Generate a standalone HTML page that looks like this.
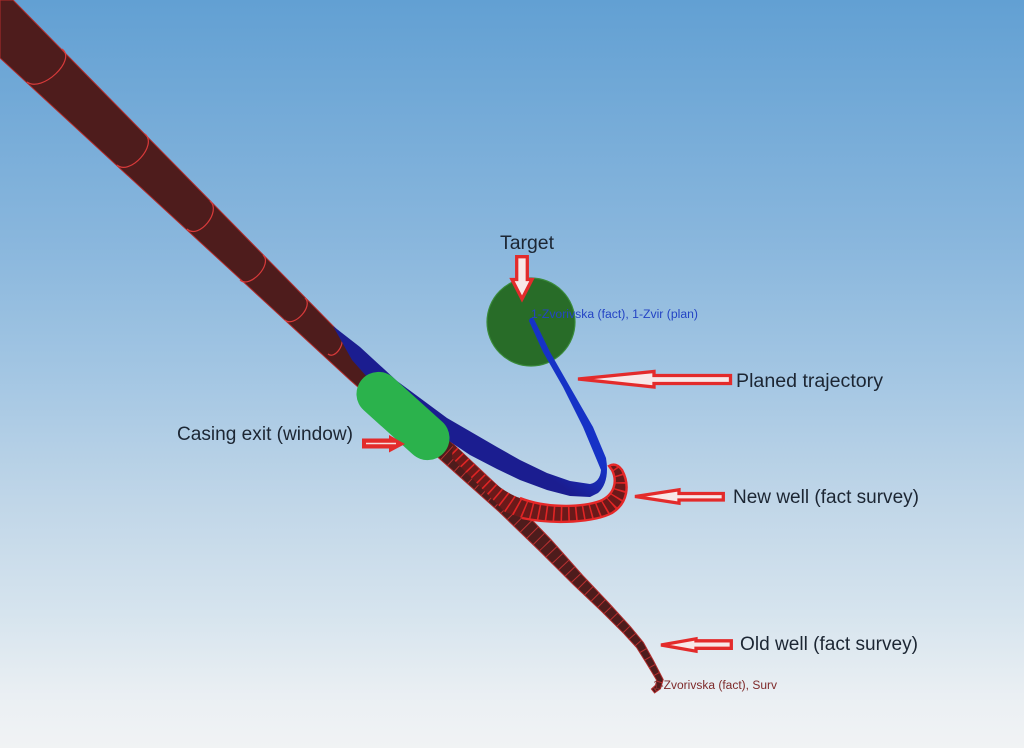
<!DOCTYPE html>
<html>
<head>
<meta charset="utf-8">
<style>
  html,body{margin:0;padding:0;background:#a6c8e4;}
  body{width:1024px;height:748px;overflow:hidden;}
  svg{display:block;}
  .lbl{font-family:"Liberation Sans",Arial,sans-serif;font-size:19px;fill:#1c2633;}
</style>
</head>
<body>
<svg width="1024" height="748" viewBox="0 0 1024 748" xmlns="http://www.w3.org/2000/svg">
  <defs>
    <linearGradient id="bg" x1="0" y1="0" x2="0" y2="1">
      <stop offset="0" stop-color="#62a0d3"/>
      <stop offset="0.33" stop-color="#8ab7dd"/>
      <stop offset="0.5" stop-color="#a3c6e3"/>
      <stop offset="0.67" stop-color="#c0d6e8"/>
      <stop offset="0.82" stop-color="#d6e4ee"/>
      <stop offset="0.93" stop-color="#eaeff3"/>
      <stop offset="1" stop-color="#f1f3f4"/>
    </linearGradient>
    <linearGradient id="bl" gradientUnits="userSpaceOnUse" x1="560" y1="485" x2="583" y2="452">
      <stop offset="0" stop-color="#1b1d90"/>
      <stop offset="1" stop-color="#1632c6"/>
    </linearGradient>
    <clipPath id="oldclip">
      <path d="M453.7,444.6 L511.2,498.5 L550.7,539.4 L582.7,575.5 L608.9,603.1 L630.5,626.8 L643.4,642.5 L653.2,660.2 L663.2,679.6 L660.5,688.7 L654.6,693 L651.4,689 L655.5,685.3 L656.8,680.4 L646.8,663.8 L636.6,647.5 L623.5,633.2 L601.1,610.9 L573.3,584.5 L539.3,550.6 L498.8,511.5 L440.3,459.4 Z"/>
    </clipPath>
    <clipPath id="newclip">
      <path d="M453,444 C470,458 495,490 520,498 C545,508 580,508 600,501 C614,495 618,482 612,470 L609,466 Q616,462 622,470 C630,485 628,503 612,513 C595,522 555,525 522,518 L505,512 L452,458 Z"/>
    </clipPath>
  </defs>

  <!-- background -->
  <rect x="0" y="0" width="1024" height="748" fill="url(#bg)"/>

  <!-- main old well tube -->
  <path d="M0,0 L13,0 L337,330 L453.7,444.6 L511.2,498.5 L550.7,539.4 L582.7,575.5 L608.9,603.1 L630.5,626.8 L643.4,642.5 L653.2,660.2 L663.2,679.6 L660.5,688.7 L654.6,693 L651.4,689 L655.5,685.3 L656.8,680.4 L646.8,663.8 L636.6,647.5 L623.5,633.2 L601.1,610.9 L573.3,584.5 L539.3,550.6 L498.8,511.5 L440.3,459.4 L350,380 L0,58 Z"
        fill="#4e1c1c" stroke="#b02c2c" stroke-width="1"/>
  <!-- rings on main tube -->
  <g fill="none" stroke="#d83a3a" stroke-width="1.2">
    <path d="M62,49 C77,60 42,93 27,82"/>
    <path d="M145,134 C158,145 130,176 117,165"/>
    <path d="M210,201 C222,211 199,240 187,229"/>
    <path d="M263,255 C273,264 250,289 240,280"/>
    <path d="M305,298 C314,306 294,328 285,320"/>
    <path d="M340,336 C347,342 335,360 328,354"/>
  </g>
  <!-- rings on lower old well -->
  <g clip-path="url(#oldclip)">
    <path d="M447,452 L505,505 L545,545 L578,580 L605,607 L627,630 L640,645 L650,662 L660,680 L658,687 L653,691"
          fill="none" stroke="#b83030" stroke-width="26" stroke-dasharray="1 8"/>
  </g>

  <!-- target -->
  <circle cx="531" cy="322" r="44" fill="#286c28" stroke="#3a8a3a" stroke-width="1.2"/>

  <!-- new well (fact survey) -->
  <path d="M453,444 C470,458 495,490 520,498 C545,508 580,508 600,501 C614,495 618,482 612,470 L609,466 Q616,462 622,470 C630,485 628,503 612,513 C595,522 555,525 522,518 L505,512 L452,458 Z"
        fill="#6a1a1a"/>
  <g clip-path="url(#newclip)">
    <path d="M455,450 C480,475 505,505 530,512 C560,520 595,518 612,503 C625,490 622,472 612,464"
          fill="none" stroke="#e02424" stroke-width="26" stroke-dasharray="1.6 6"/>
  </g>
  <path d="M520,498 C545,508 580,508 600,501 C614,495 618,482 612,470 L609,466 Q616,462 622,470 C630,485 628,503 612,513 C595,522 555,525 522,518"
        fill="none" stroke="#e62828" stroke-width="2.4"/>

  <!-- planned trajectory (blue) -->
  <path d="M333,326 L360,347 L397,381 L447,418 L497,447 L520,460 L547,473 L570,481 L590,484 Q600,482 601,470 L583,427 L563,387 L543,352 L529,321 Q530,316 534,319 L550,352 L570,387 L593,427 L606,458 Q610,482 598,493 L590,497 L570,496 L547,490 L520,480 L497,469 L470,455 L452,443 L410,413 L375,386 L352,360 Z"
        fill="url(#bl)"/>

  <!-- casing exit window (green) -->
  <rect x="-55" y="-22" width="110" height="44" rx="22" transform="translate(403,416) rotate(42)" fill="#2bb24c"/>

  <text x="531" y="318" font-family="Liberation Sans, Arial, sans-serif" font-size="11.5" fill="#2444c4" textLength="167" lengthAdjust="spacingAndGlyphs">1-Zvorivska (fact), 1-Zvir (plan)</text>

  <!-- red arrows -->
  <g fill="#f8e8e8" stroke="#e32b2b" stroke-width="3.3" stroke-linejoin="miter">
    <path d="M516.7,256.7 L527.3,256.7 L527.3,279.5 L532,279.5 L522,299 L512,279.5 L516.7,279.5 Z"/>
    <path d="M578,379 L654,371.5 L654,375.5 L730.5,375.5 L730.5,383.5 L654,383.5 L654,387 Z"/>
    <path d="M635,496.5 L679,489.8 L679,493.5 L723.3,493.5 L723.3,500 L679,500 L679,503.2 Z"/>
    <path d="M661,645 L696,638.8 L696,640.8 L731.3,640.8 L731.3,648.3 L696,648.3 L696,651.2 Z"/>
  </g>
  <!-- casing exit arrow (filled) -->
  <path d="M362,438.5 L389,438.5 L389,435 L405,444 L389,452.5 L389,448.5 L362,448.5 Z" fill="#e32b2b"/>
  <path d="M366,443.5 L396,443.5" stroke="#f6dede" stroke-width="1.5"/>

  <!-- old well small label -->
  <text x="653" y="689" font-family="Liberation Sans, Arial, sans-serif" font-size="11.5" fill="#7e2a2a" textLength="124" lengthAdjust="spacingAndGlyphs">1-Zvorivska (fact), Surv</text>

  <!-- labels -->
  <text class="lbl" x="500" y="249" textLength="54" lengthAdjust="spacingAndGlyphs">Target</text>
  <text class="lbl" x="736" y="387" textLength="147" lengthAdjust="spacingAndGlyphs">Planed trajectory</text>
  <text class="lbl" x="733" y="503" textLength="186" lengthAdjust="spacingAndGlyphs">New well (fact survey)</text>
  <text class="lbl" x="740" y="650" textLength="178" lengthAdjust="spacingAndGlyphs">Old well (fact survey)</text>
  <text class="lbl" x="177" y="440" textLength="176" lengthAdjust="spacingAndGlyphs">Casing exit (window)</text>
</svg>
</body>
</html>
